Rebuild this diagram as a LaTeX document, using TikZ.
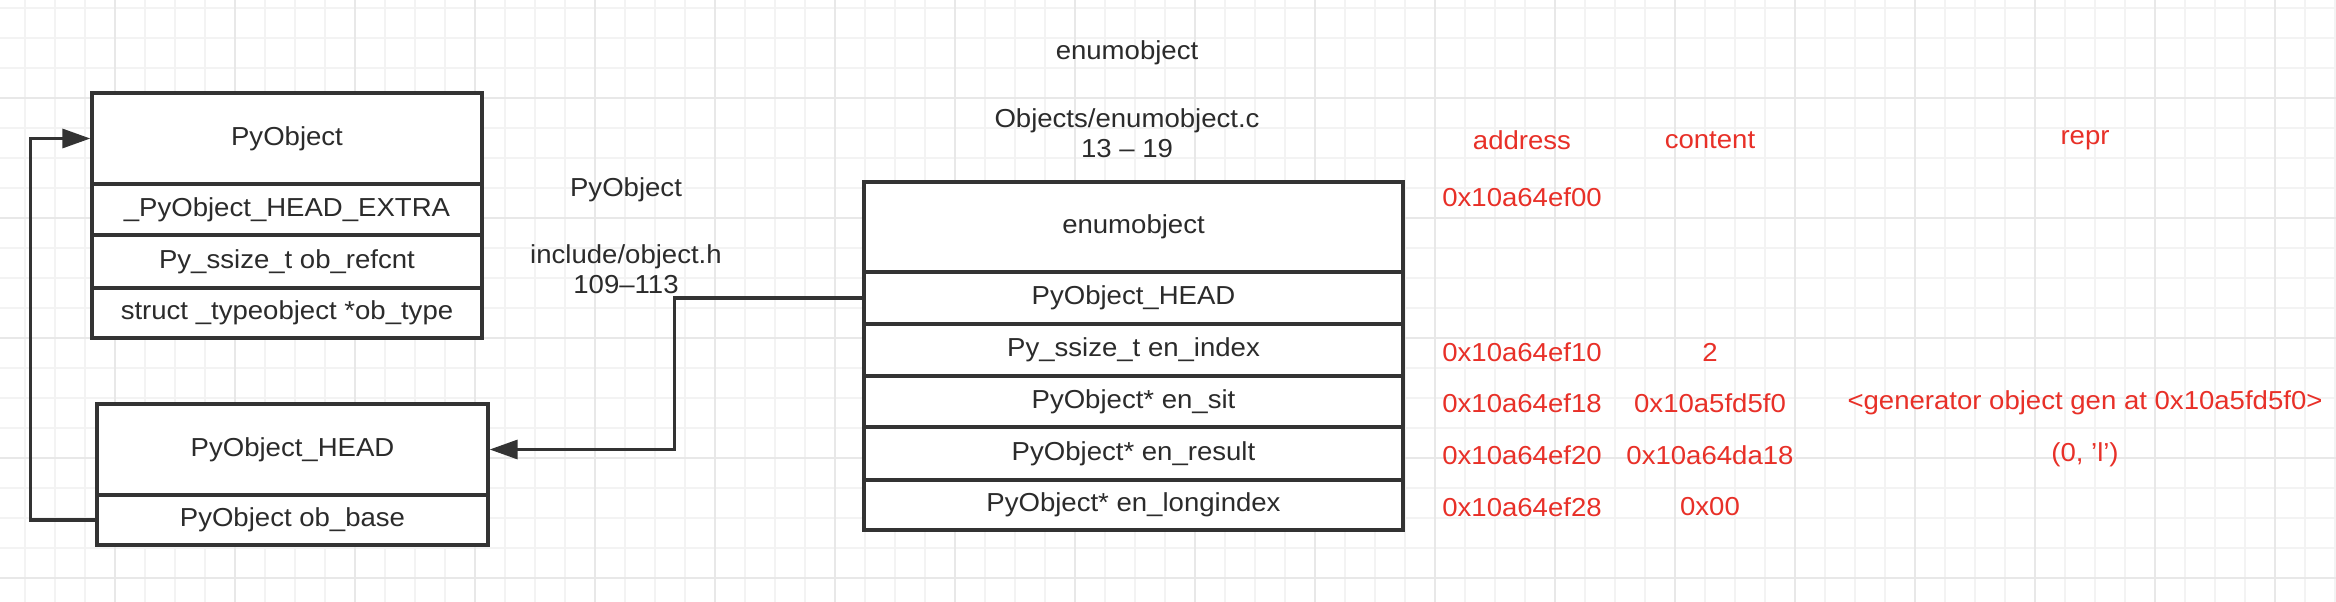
\documentclass[tikz,border=0pt]{standalone}
\usepackage{fontspec}
\setmainfont{Liberation Sans}[FakeStretch=1.06]
\usetikzlibrary{arrows.meta}
\definecolor{lc}{HTML}{333333}
\definecolor{tc}{HTML}{2B2B2B}
\definecolor{rc}{RGB}{232,48,40}
\definecolor{gminor}{RGB}{243,243,243}
\definecolor{gmajor}{RGB}{232,232,232}
\tikzset{
  txt/.style={font=\fontsize{26}{30}\selectfont, text=tc, inner sep=0pt, align=center},
  red/.style={txt, text=rc},
  cell/.style={txt, draw=lc, line width=3.3pt, fill=white, minimum width=#1},
  conn/.style={draw=lc, line width=3.3pt, -{Triangle[length=28pt,width=19pt]}},
}
\begin{document}
\begin{tikzpicture}[x=1pt,y=-1pt]
\useasboundingbox (0,0) rectangle (2336,602);
\fill[white] (0,0) rectangle (2336,602);
% grid
\foreach \x in {25,55,...,2335} \draw[gminor, line width=2pt] (\x,0) -- (\x,602);
\foreach \y in {8,38,...,600} \draw[gminor, line width=2pt] (0,\y) -- (2336,\y);
\foreach \x in {115,235,...,2335} \draw[gmajor, line width=2pt] (\x,0) -- (\x,602);
\foreach \y in {98,218,...,600} \draw[gmajor, line width=2pt] (0,\y) -- (2336,\y);

% PyObject struct
\node[cell=390, minimum height=91] (pyo) at (287,138.5) {PyObject};
\node[cell=390, minimum height=51] (pyo1) at (287,209.5) {\_PyObject\_HEAD\_EXTRA};
\node[cell=390, minimum height=53] (pyo2) at (287,261.5) {Py\_ssize\_t ob\_refcnt};
\node[cell=390, minimum height=50] (pyo3) at (287,313) {struct \_typeobject *ob\_type};

% PyObject_HEAD
\node[cell=391, minimum height=91] (hd) at (292.5,449.5) {PyObject\_HEAD};
\node[cell=391, minimum height=50] (hd1) at (292.5,520) {PyObject ob\_base};

% enumobject
\node[cell=539, minimum height=90] (en) at (1133.5,227) {enumobject};
\node[cell=539, minimum height=52] (en1) at (1133.5,298) {PyObject\_HEAD};
\node[cell=539, minimum height=52] (en2) at (1133.5,350) {Py\_ssize\_t en\_index};
\node[cell=539, minimum height=51] (en3) at (1133.5,401.5) {PyObject* en\_sit};
\node[cell=539, minimum height=53] (en4) at (1133.5,453.5) {PyObject* en\_result};
\node[cell=539, minimum height=50] (en5) at (1133.5,505) {PyObject* en\_longindex};

% connectors
\draw[conn] (hd1.west) -- ++(-65,0) |- (pyo.west);
\draw[conn] (en1.west) -- ++(-188,0) |- (hd.east);

% labels
\node[txt] (l1) at (626,190) {PyObject};
\node[txt] (l2) at (626,269) {include/object.h\\109–113};
\node[txt] (l3) at (1127,53) {enumobject};
\node[txt] (l4) at (1127,133) {Objects/enumobject.c\\13 – 19};

% red table
\node[red] (ha) at (1522,140) {address};
\node[red] (hc) at (1710,140) {content};
\node[red] (hr) at (2085,140) {repr};
\node[red] (a0) at (1522,197) {0x10a64ef00};
\node[red] (a1) at (1522,352) {0x10a64ef10};
\node[red] (c1) at (1710,352) {2};
\node[red] (a2) at (1522,403) {0x10a64ef18};
\node[red] (c2) at (1710,403) {0x10a5fd5f0};
\node[red] (r2) at (2085,403) {<generator object gen at 0x10a5fd5f0>};
\node[red] (a3) at (1522,455) {0x10a64ef20};
\node[red] (c3) at (1710,455) {0x10a64da18};
\node[red] (r3) at (2085,455) {(0, 'l')};
\node[red] (a4) at (1522,507) {0x10a64ef28};
\node[red] (c4) at (1710,507) {0x00};
\end{tikzpicture}
\end{document}
